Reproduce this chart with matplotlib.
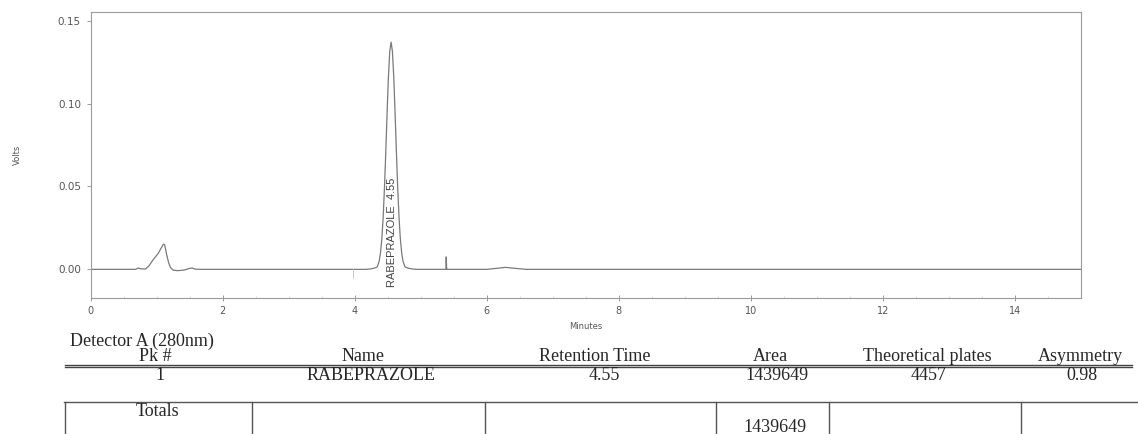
import numpy as np
import matplotlib
matplotlib.use("Agg")
import matplotlib.pyplot as plt
from matplotlib.lines import Line2D
from matplotlib.ticker import MultipleLocator, FormatStrFormatter

# ===== DATA =====
t_min = [0.00, 0.68, 0.72, 0.76, 0.83, 0.88, 0.95, 1.02, 1.07, 1.10, 1.12,
         1.15, 1.18, 1.21, 1.25, 1.32, 1.42, 1.50, 1.54, 1.58, 1.70,
         3.97, 4.17, 4.25, 4.30, 4.34, 4.37, 4.39, 4.41, 4.43, 4.45, 4.47,
         4.49, 4.51, 4.53, 4.55, 4.57, 4.59, 4.61, 4.63, 4.65, 4.67, 4.69,
         4.71, 4.73, 4.76, 4.80, 4.86, 4.94,
         5.380, 5.385, 5.392, 5.40, 6.00, 6.15, 6.28, 6.40, 6.60, 15.0]
volts = [0.0000, 0.0000, 0.0008, 0.0003, 0.0002, 0.0020, 0.0060, 0.0095,
         0.0130, 0.0152, 0.0148, 0.0090, 0.0040, 0.0010, -0.0005, -0.0008,
         -0.0004, 0.0006, 0.0008, 0.0001, 0.0000,
         0.0000, 0.0000, 0.0003, 0.0008, 0.0015, 0.0050, 0.0101, 0.0185,
         0.0315, 0.0494, 0.0713, 0.0949, 0.1164, 0.1315, 0.1370, 0.1315,
         0.1164, 0.0949, 0.0713, 0.0494, 0.0315, 0.0185, 0.0101, 0.0050,
         0.0015, 0.0008, 0.0003, 0.0000,
         0.0000, 0.0075, 0.0002, 0.0000, 0.0000, 0.0006, 0.0012, 0.0007,
         0.0000, 0.0000]

pk_label = "RABEPRAZOLE  4.55"
pk_rt = 4.55

detector = "Detector A (280nm)"
col_names = ["Pk #", "Name", "Retention Time", "Area",
             "Theoretical plates", "Asymmetry"]
row_vals = ["1", "RABEPRAZOLE", "4.55", "1439649", "4457", "0.98"]
total_area = "1439649"

# ===== LAYOUT (pixels of a 1138 x 434 page) =====
W, H = 1138, 434
fx = lambda x: x / W
fy = lambda y: 1 - y / H

C_LINE = "#7a7a7a"; C_AX = "#9a9a9a"; C_TXT = "#555555"; C_TAB = "#262626"

fig = plt.figure(figsize=(11.38, 4.34), dpi=100)
ax = fig.add_axes([fx(90.7), fy(297.7), fx(1081) - fx(90.7), fy(12.3) - fy(297.7)])

ax.plot(t_min, volts, color=C_LINE, lw=0.9)
ax.plot([3.97, 3.97], [0.0, -0.005], color="#c0c0c0", lw=0.6)
ax.text(pk_rt + 0.01, -0.0108, pk_label, rotation=90, ha="center", va="bottom",
        fontsize=8, color="#444444", family="Liberation Sans")

ax.set_xlim(0, 15.0)
ax.set_ylim(-0.0171, 0.155)
ax.xaxis.set_major_locator(MultipleLocator(2))
ax.xaxis.set_minor_locator(MultipleLocator(0.5))
ax.yaxis.set_major_locator(MultipleLocator(0.05))
ax.yaxis.set_major_formatter(FormatStrFormatter("%.2f"))
for s in ax.spines.values():
    s.set_color(C_AX); s.set_linewidth(0.8)
ax.tick_params(axis="x", which="major", direction="inout", length=4, width=0.7,
               color=C_AX, labelsize=7, labelcolor=C_TXT, pad=4)
ax.tick_params(axis="x", which="minor", direction="in", length=1.5, width=0.5,
               color="#c8c8c8")
ax.tick_params(axis="y", direction="out", length=3, width=0.7, color=C_AX,
               labelsize=7.5, labelcolor=C_TXT, pad=4)
ax.set_xlabel("Minutes", fontsize=6, color=C_TXT, labelpad=4)
ax.set_ylabel("Volts", fontsize=6, color=C_TXT)
ax.yaxis.set_label_coords((22 - 90.7) / (1081 - 90.7), 0.5)

# ===== TABLE BELOW THE PLOT =====
serif = dict(family="Liberation Serif", color=C_TAB, fontsize=13)
fig.text(fx(70), fy(345.7), detector, ha="left", va="baseline", **serif)
col_x = [155, 363, 595, 770, 927, 1080]
val_x = [160, 371, 604, 777, 929, 1082]
for x, s in zip(col_x, col_names):
    fig.text(fx(x), fy(361), s, ha="center", va="baseline", **serif)
for x, s in zip(val_x, row_vals):
    fig.text(fx(x), fy(380), s, ha="center", va="baseline", **serif)
for y in (364.8, 367.4):
    fig.add_artist(Line2D([fx(65), fx(1132)], [fy(y), fy(y)], color="#444444", lw=1.0))

# Totals box
fig.add_artist(Line2D([fx(64), fx(1138)], [fy(402), fy(402)], color="#555555", lw=1.0))
for x in (64.5, 252, 485, 716, 829, 1021):
    fig.add_artist(Line2D([fx(x), fx(x)], [fy(402), fy(436)], color="#555555", lw=1.0))
fig.text(fx(157), fy(415.7), "Totals", ha="center", va="baseline", **serif)
fig.text(fx(775), fy(432), total_area, ha="center", va="baseline", **serif)

fig.savefig("out.png", dpi=100)
